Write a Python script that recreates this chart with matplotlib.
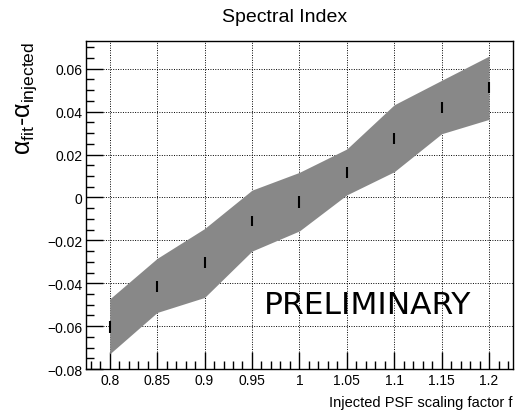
import numpy as np
import matplotlib as mpl
import matplotlib.pyplot as plt

# --------------------------------------------------------------
# Data
# --------------------------------------------------------------

psf_factor = [0.8, 0.85, 0.9, 0.95, 1.0, 1.05, 1.1, 1.15, 1.2]
alpha_diff = [-0.0605, -0.0414, -0.0305, -0.011, -0.0021, 0.0117, 0.0276, 0.0418, 0.0511]
alpha_err = [0.0027, 0.0025, 0.0026, 0.0025, 0.0026, 0.0025, 0.0026, 0.0025, 0.0026]
band_upper = [-0.0473, -0.0284, -0.0145, 0.0034, 0.0117, 0.0226, 0.0432, 0.0546, 0.0659]
band_lower = [-0.0729, -0.0536, -0.0466, -0.025, -0.0156, 0.0012, 0.012, 0.0297, 0.0364]

yticks = [-0.08, -0.06, -0.04, -0.02, 0, 0.02, 0.04, 0.06]
ytick_labels = ["\u22120.08", "\u22120.06", "\u22120.04", "\u22120.02", "0", "0.02", "0.04", "0.06"]
xticks = [0.8, 0.85, 0.9, 0.95, 1.0, 1.05, 1.1, 1.15, 1.2]
xtick_labels = ["0.8", "0.85", "0.9", "0.95", "1", "1.05", "1.1", "1.15", "1.2"]

# --------------------------------------------------------------
# Plot settings
# --------------------------------------------------------------

mpl.rcParams['font.family'] = ['Liberation Sans', 'DejaVu Sans']
mpl.rcParams['mathtext.fontset'] = 'custom'
mpl.rcParams['mathtext.rm'] = 'Liberation Sans'
mpl.rcParams['mathtext.it'] = 'Liberation Sans:italic'

fig = plt.figure(figsize=(5.18, 4.14), dpi=100)
ax = fig.add_axes([0.166, 0.106, 0.824, 0.793])

ax.fill_between(psf_factor, band_lower, band_upper, color='#888888', linewidth=0, zorder=2)
ax.errorbar(psf_factor, alpha_diff, yerr=alpha_err, fmt='none', ecolor='black',
            elinewidth=1.5, capsize=0, zorder=3)

ax.set_xlim(0.775, 1.225)
ax.set_ylim(-0.08, 0.073)
ax.set_xticks(xticks)
ax.set_xticklabels(xtick_labels)
ax.set_yticks(yticks)
ax.set_yticklabels(ytick_labels)
ax.xaxis.set_minor_locator(mpl.ticker.MultipleLocator(0.01))
ax.yaxis.set_minor_locator(mpl.ticker.MultipleLocator(0.005))
ax.tick_params(which='major', direction='in', length=12, width=1, labelsize=10, pad=2.5)
ax.tick_params(which='minor', direction='in', length=6, width=1)
ax.tick_params(top=False, right=False, which='both')

ax.grid(True, which='major', linestyle=(0, (1, 1.5)), color='black', linewidth=0.7, zorder=1)
ax.set_axisbelow(True)
for sp in ax.spines.values():
    sp.set_linewidth(1)

fig.text(285 / 518, 1 - 22 / 414, "Spectral Index", fontsize=14, ha='center', va='baseline')
ax.set_xlabel("Injected PSF scaling factor f", fontsize=10.5, loc='right', labelpad=6)
ax.set_ylabel(r"$\mathrm{\alpha}_{\rm fit}$-$\mathrm{\alpha}_{\rm injected}$", fontsize=18,
              loc='top', labelpad=6)

ax.text(1.072, -0.05, "PRELIMINARY", fontsize=22.5, family='DejaVu Sans',
        ha='center', va='center', zorder=4)

plt.savefig('out.png', dpi=100)
